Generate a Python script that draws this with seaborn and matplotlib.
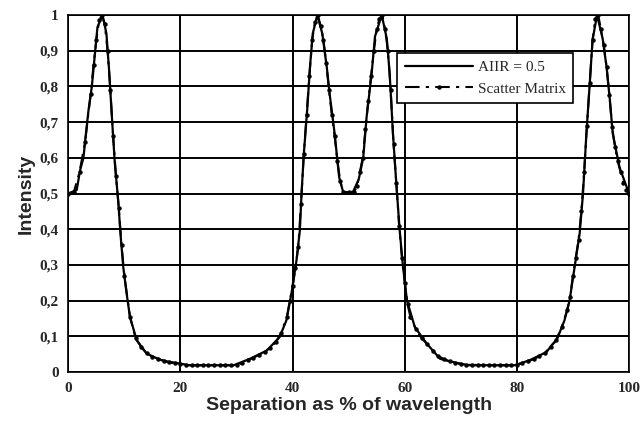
import matplotlib
matplotlib.use("Agg")
import matplotlib.pyplot as plt
import seaborn as sns
import pandas as pd

# ---- data ----
aiir_x = [0, 1.5, 2.1, 2.7, 3.15, 3.6, 4.2, 4.8, 5.2, 6.1, 6.8, 7.3, 7.7, 8.3, 8.9, 9.3,
          9.8, 10.4, 11.0, 12.2, 14.0, 16.3, 17.5, 20.5, 21.5, 25, 29.5, 32.4, 35.4, 37.7,
          38.9, 39.8, 40.7, 41.3, 41.6, 42.0, 42.6, 43.1, 43.6, 44.4, 45.3, 46.1, 46.6,
          47.5, 48.3, 49.0, 50.0, 50.8, 51.8, 52.6, 53.2, 54.1, 54.7, 55.9, 56.8, 57.3,
          57.9, 58.5, 59.1, 59.7, 60.4, 61.8, 63.9, 66.3, 68.0, 71.0, 75, 79.6, 82.3,
          85.3, 86.2, 87.1, 88.5, 89.4, 90.3, 91.2, 91.8, 92.4, 93.0, 93.5, 94.3, 95.3,
          96.0, 96.6, 97.1, 98.3, 100]
aiir_y = [0.50, 0.51, 0.565, 0.60, 0.668, 0.733, 0.80, 0.90, 0.966, 1.0, 0.948, 0.84,
          0.733, 0.584, 0.48, 0.388, 0.294, 0.22, 0.154, 0.089, 0.051, 0.035, 0.030,
          0.022, 0.019, 0.019, 0.019, 0.037, 0.06, 0.098, 0.145, 0.22, 0.313, 0.397,
          0.50, 0.61, 0.733, 0.854, 0.948, 1.0, 0.948, 0.854, 0.78, 0.668, 0.546, 0.505,
          0.503, 0.505, 0.54, 0.60, 0.714, 0.836, 0.94, 1.0, 0.934, 0.84, 0.668, 0.528,
          0.397, 0.294, 0.20, 0.126, 0.08, 0.037, 0.030, 0.020, 0.019, 0.019, 0.033,
          0.056, 0.075, 0.089, 0.145, 0.20, 0.294, 0.388, 0.50, 0.668, 0.808, 0.93, 1.0,
          0.934, 0.854, 0.76, 0.668, 0.574, 0.50]

scat_x = [0, 1, 2, 3, 4, 4.5, 5, 5.5, 6, 6.5, 7, 7.5, 8, 8.5, 9, 9.5, 10, 11, 12, 13, 14,
          15, 16, 17, 18, 19, 20, 21, 22, 23, 24, 25, 26, 27, 28, 29, 30, 31, 32, 33, 34,
          35, 36, 37, 38, 39, 39.5, 40, 40.5, 41, 41.5, 42, 42.5, 43, 43.5, 44, 44.5, 45,
          45.5, 46, 46.5, 47, 47.5, 48, 48.5, 49, 50, 51, 51.5, 52, 52.5, 53, 53.5, 54,
          54.5, 55, 55.5, 56, 56.5, 57, 57.5, 58, 58.5, 59, 59.5, 60, 60.5, 61, 62, 63,
          64, 65, 66, 67, 68, 69, 70, 71, 72, 73, 74, 75, 76, 77, 78, 79, 80, 81, 82, 83,
          84, 85, 86, 87, 88, 89, 89.5, 90, 90.5, 91, 91.5, 92, 92.5, 93, 93.5, 94, 94.5,
          95, 95.5, 96, 96.5, 97, 97.5, 98, 98.5, 99, 99.5, 100]
scat_y = [0.50, 0.505, 0.56, 0.645, 0.78, 0.86, 0.93, 0.985, 1.0, 0.975, 0.90, 0.79,
          0.66, 0.55, 0.46, 0.355, 0.27, 0.155, 0.095, 0.07, 0.052, 0.043, 0.036, 0.031,
          0.027, 0.024, 0.022, 0.020, 0.019, 0.019, 0.019, 0.019, 0.019, 0.019, 0.019,
          0.019, 0.019, 0.025, 0.033, 0.040, 0.048, 0.057, 0.068, 0.083, 0.11, 0.155,
          0.20, 0.24, 0.29, 0.35, 0.47, 0.61, 0.72, 0.83, 0.93, 0.98, 1.0, 0.97, 0.93,
          0.865, 0.79, 0.72, 0.66, 0.59, 0.535, 0.505, 0.503, 0.505, 0.52, 0.56, 0.60,
          0.68, 0.76, 0.83, 0.90, 0.96, 0.99, 1.0, 0.96, 0.90, 0.79, 0.64, 0.53, 0.41,
          0.32, 0.25, 0.19, 0.155, 0.12, 0.095, 0.078, 0.06, 0.045, 0.036, 0.030, 0.025,
          0.022, 0.019, 0.019, 0.019, 0.019, 0.019, 0.019, 0.019, 0.019, 0.019, 0.021,
          0.024, 0.030, 0.036, 0.044, 0.054, 0.070, 0.090, 0.125, 0.175, 0.21, 0.27,
          0.32, 0.37, 0.45, 0.56, 0.69, 0.81, 0.93, 0.99, 1.0, 0.96, 0.915, 0.855, 0.775,
          0.685, 0.63, 0.59, 0.56, 0.53, 0.51, 0.50]

series_names = ["AIIR = 0.5", "Scatter Matrix"]
x_ticks = [0, 20, 40, 60, 80, 100]
x_ticklabels = ["0", "20", "40", "60", "80", "100"]
y_ticks = [0, 0.1, 0.2, 0.3, 0.4, 0.5, 0.6, 0.7, 0.8, 0.9, 1.0]
y_ticklabels = ["0", "0,1", "0,2", "0,3", "0,4", "0,5", "0,6", "0,7", "0,8", "0,9", "1"]
x_label = "Separation as % of wavelength"
y_label = "Intensity"

df_a = pd.DataFrame({"x": aiir_x, "y": aiir_y})
df_s = pd.DataFrame({"x": scat_x, "y": scat_y})

sns.set_style("white")
plt.rcParams["font.family"] = ["Liberation Serif", "DejaVu Serif"]

fig = plt.figure(figsize=(6.4, 4.25), dpi=100)
ax = fig.add_axes([68.3 / 640, 1 - 372 / 425, (629 - 68.3) / 640, (372 - 15) / 425])

sns.lineplot(data=df_a, x="x", y="y", ax=ax, color="black", lw=1.6,
             label=series_names[0], zorder=3)
sns.lineplot(data=df_s, x="x", y="y", ax=ax, color="black", lw=1.5,
             linestyle=(0, (7, 3, 1.5, 3)), marker="o", markersize=3.2,
             markeredgewidth=0, label=series_names[1], zorder=4)

ax.set_xlim(0, 100)
ax.set_ylim(0, 1)
ax.set_xticks(x_ticks)
ax.set_xticklabels(x_ticklabels)
ax.set_yticks(y_ticks)
ax.set_yticklabels(y_ticklabels)
ax.grid(True, color="black", lw=1.4)
ax.set_axisbelow(True)
for s in ax.spines.values():
    s.set_color("black")
    s.set_linewidth(1.2)
ax.tick_params(axis="both", direction="out", length=3, width=1, color="black",
               labelsize=11, pad=4)
for t in ax.get_xticklabels() + ax.get_yticklabels():
    t.set_fontweight("bold")

ax.set_xlabel(x_label, fontsize=14, fontweight="bold",
              family=["Liberation Sans", "DejaVu Sans"], labelpad=2)
ax.set_ylabel(y_label, fontsize=14, fontweight="bold",
              family=["Liberation Sans", "DejaVu Sans"], labelpad=3)

leg = ax.legend(loc="upper left", bbox_to_anchor=(0.586, 0.894), borderaxespad=0,
                fontsize=11, frameon=True, fancybox=False, handlelength=4.5,
                handletextpad=0.3, borderpad=0.5, labelspacing=0.5)
leg.get_frame().set_edgecolor("black")
leg.get_frame().set_linewidth(1.2)
leg.get_frame().set_alpha(1)

fig.savefig("out.png", dpi=100)
